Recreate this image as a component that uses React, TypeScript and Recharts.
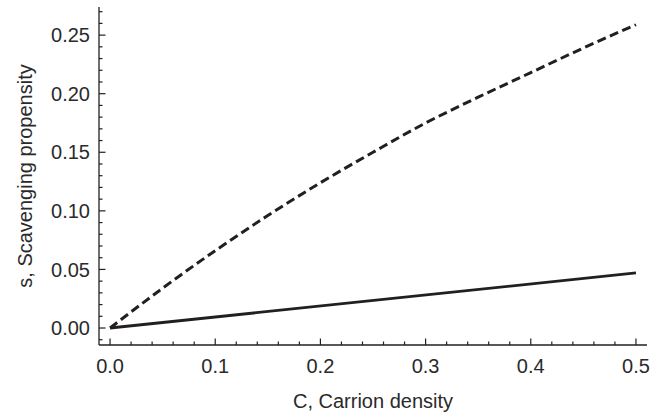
import React from 'react';
import { LineChart, Line, XAxis, YAxis } from 'recharts';

// dashed curve, sampled every 0.05 of carrion density
const dashedC = [0, 0.05, 0.1, 0.15, 0.2, 0.25, 0.3, 0.35, 0.4, 0.45, 0.5];
const dashedS = [0, 0.034, 0.066, 0.096, 0.124, 0.15, 0.175, 0.197, 0.218, 0.239, 0.259];

// solid line is straight, so only its two ends
const solidC = [0, 0.5];
const solidS = [0, 0.047];

const xMajorTicks = [0, 0.1, 0.2, 0.3, 0.4, 0.5];
const yMajorTicks = [0, 0.05, 0.1, 0.15, 0.2, 0.25];

const xTicks = Array.from({ length: 26 }, (_, i) => Math.round(i * 2) / 100);
const yTicks = Array.from({ length: 29 }, (_, i) => Math.round(i - 1) / 100);

const dashedData = dashedC.map((c, i) => ({ c, s: dashedS[i] }));
const solidData = solidC.map((c, i) => ({ c, s: solidS[i] }));

const INK = '#231f20';
const TEXT = '#2a2a2a';
const FONT = '"Liberation Sans", Arial, sans-serif';

const isMajor = (v: number, list: number[]) => list.some((m) => Math.abs(m - v) < 1e-6);

const XTick = (props: any) => {
  const { x, y, payload } = props;
  const major = isMajor(payload.value, xMajorTicks);
  return (
    <g>
      <line x1={x} x2={x} y1={y} y2={y - (major ? 6.5 : 3.5)} stroke={INK} strokeWidth={1.2} />
      {major && (
        <text x={x} y={y + 28} textAnchor="middle" fontSize={20} fontFamily={FONT} fill={TEXT}>
          {payload.value.toFixed(1)}
        </text>
      )}
    </g>
  );
};

const YTick = (props: any) => {
  const { x, y, payload } = props;
  const axisX = x + 9;
  const major = isMajor(payload.value, yMajorTicks);
  return (
    <g>
      <line x1={axisX} x2={axisX + (major ? 6.5 : 3.5)} y1={y} y2={y} stroke={INK} strokeWidth={1.2} />
      {major && (
        <text x={x} y={y} dy="0.36em" textAnchor="end" fontSize={20} fontFamily={FONT} fill={TEXT}>
          {payload.value.toFixed(2)}
        </text>
      )}
    </g>
  );
};

const YLabel = (props: any) => {
  const { viewBox } = props;
  const cx = viewBox.x + 32;
  const cy = viewBox.y + viewBox.height / 2;
  return (
    <text
      x={cx}
      y={cy}
      transform={`rotate(-90 ${cx} ${cy})`}
      textAnchor="middle"
      fontSize={20}
      fontFamily={FONT}
      fill={TEXT}
    >
      s, Scavenging propensity
    </text>
  );
};

const App: React.FC = () => {
  return (
    <div style={{ position: 'absolute', left: 0, top: 0, background: '#fff' }}>
      <LineChart width={662} height={416} margin={{ top: 7, right: 15, bottom: 0, left: 0 }}>
        <XAxis
          type="number"
          dataKey="c"
          domain={[-0.0105, 0.5105]}
          allowDataOverflow
          ticks={xTicks}
          interval={0}
          tickSize={0}
          tickMargin={0}
          tick={<XTick />}
          tickLine={false}
          axisLine={{ stroke: INK, strokeWidth: 1.3 }}
          height={71}
          label={{ value: 'C, Carrion density', position: 'insideBottom', offset: 8, fontSize: 20, fontFamily: FONT, fill: TEXT }}
        />
        <YAxis
          type="number"
          dataKey="s"
          domain={[-0.0145, 0.274]}
          allowDataOverflow
          ticks={yTicks}
          interval={0}
          tickSize={0}
          tickMargin={9}
          tick={<YTick />}
          tickLine={false}
          axisLine={{ stroke: INK, strokeWidth: 1.3 }}
          width={99}
          label={<YLabel />}
        />
        <Line
          data={dashedData}
          dataKey="s"
          type="monotone"
          stroke={INK}
          strokeWidth={3}
          strokeDasharray="9 4.5"
          dot={false}
          isAnimationActive={false}
        />
        <Line
          data={solidData}
          dataKey="s"
          type="linear"
          stroke={INK}
          strokeWidth={2.8}
          dot={false}
          isAnimationActive={false}
        />
      </LineChart>
    </div>
  );
};

export default App;
